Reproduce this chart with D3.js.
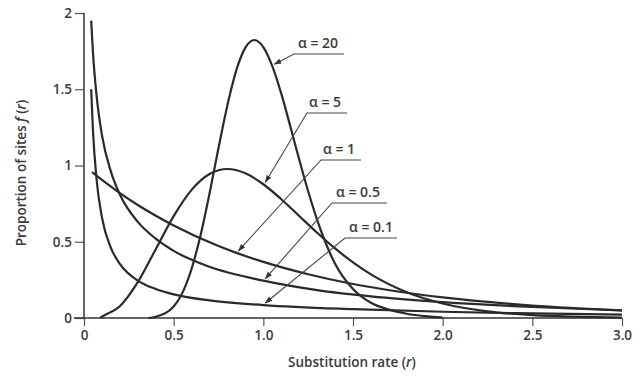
<!DOCTYPE html>
<html>
<head>
<meta charset="utf-8">
<script src="https://d3js.org/d3.v7.min.js"></script>
<style>
  body { margin: 0; background: #fff; }
  text { font-family: "Open Sans", sans-serif; fill: #3a3a3a; font-weight: 600; }
</style>
</head>
<body>
<script>
// values: [rate r, proportion f(r)]
const xTicks = [0, 0.5, 1.0, 1.5, 2.0, 2.5, 3.0];
const xTickLabels = ["0", "0.5", "1.0", "1.5", "2.0", "2.5", "3.0"];
const yTicks = [0, 0.5, 1, 1.5, 2];
const yTickLabels = ["0", "0.5", "1", "1.5", "2"];

const alpha01 = [[0.04, 1.50], [0.05, 1.23], [0.07, 0.91], [0.1, 0.66], [0.15, 0.46], [0.2, 0.355],
  [0.3, 0.245], [0.4, 0.19], [0.5, 0.155], [0.7, 0.115], [1.0, 0.085], [1.5, 0.058],
  [2.0, 0.041], [2.5, 0.03], [3.0, 0.022]];
const alpha05 = [[0.04, 1.95], [0.05, 1.74], [0.07, 1.46], [0.1, 1.20], [0.15, 0.96], [0.2, 0.81],
  [0.3, 0.63], [0.4, 0.52], [0.5, 0.44], [0.7, 0.336], [1.0, 0.245], [1.3, 0.183],
  [1.6, 0.142], [2.0, 0.104], [2.5, 0.072], [3.0, 0.05]];
const alpha1 = [[0.045, 0.956], [0.1, 0.905], [0.2, 0.819], [0.3, 0.741], [0.5, 0.607], [0.75, 0.472],
  [0.85, 0.427], [1.0, 0.368], [1.25, 0.287], [1.5, 0.223], [1.75, 0.174], [2.0, 0.135],
  [2.5, 0.082], [3.0, 0.05]];
const alpha5 = [[0.09, 0.0], [0.1, 0.008], [0.2, 0.077], [0.3, 0.235], [0.4, 0.451], [0.5, 0.668],
  [0.6, 0.84], [0.7, 0.944], [0.8, 0.977], [0.9, 0.949], [1.0, 0.877], [1.1, 0.779],
  [1.2, 0.669], [1.3, 0.559], [1.4, 0.456], [1.5, 0.365], [1.6, 0.286], [1.8, 0.169],
  [2.0, 0.095], [2.25, 0.043], [2.5, 0.019], [3.0, 0.003]];
const alpha20 = [[0.36, 0.0], [0.4, 0.008], [0.5, 0.075], [0.55, 0.168], [0.6, 0.323], [0.65, 0.543],
  [0.7, 0.817], [0.75, 1.115], [0.8, 1.397], [0.85, 1.627], [0.9, 1.773], [0.95, 1.823],
  [1.0, 1.776], [1.05, 1.651], [1.1, 1.471], [1.15, 1.259], [1.2, 1.039], [1.25, 0.831],
  [1.3, 0.644], [1.35, 0.485], [1.4, 0.356], [1.5, 0.19], [1.6, 0.10], [1.7, 0.055],
  [1.8, 0.028], [1.9, 0.012], [2.0, 0.003]];

const seriesNames = ["α = 20", "α = 5", "α = 1", "α = 0.5", "α = 0.1"];
const seriesData = [alpha20, alpha5, alpha1, alpha05, alpha01];
// r at which each label's pointer meets its curve
const pointerR = [1.05, 1.0, 0.85, 1.0, 1.0];

const width = 643, height = 376;
const svg = d3.select("body").append("svg")
    .attr("width", width)
    .attr("height", height);

const x = d3.scaleLinear().domain([0, 3]).range([84, 622]);
const y = d3.scaleLinear().domain([0, 2]).range([318, 13]);

// axes
const xAxis = svg.append("g")
    .attr("transform", `translate(0,${y(0)})`)
    .call(d3.axisBottom(x).tickValues(xTicks)
        .tickFormat((d, i) => xTickLabels[i])
        .tickSize(8).tickPadding(4));
const yAxis = svg.append("g")
    .attr("transform", `translate(${x(0)},0)`)
    .call(d3.axisLeft(y).tickValues(yTicks)
        .tickFormat((d, i) => yTickLabels[i])
        .tickSize(9).tickPadding(3));
[xAxis, yAxis].forEach(g => {
  g.select(".domain").remove();
  g.selectAll(".tick line").attr("stroke", "#555").attr("stroke-width", 1.2);
  g.selectAll(".tick text").style("font-size", "13.5px").attr("fill", "#3a3a3a");
});
svg.append("line")
    .attr("x1", x(0) - 10).attr("x2", x(3))
    .attr("y1", y(0)).attr("y2", y(0))
    .attr("stroke", "#333").attr("stroke-width", 1.5);
svg.append("line")
    .attr("x1", x(0)).attr("x2", x(0))
    .attr("y1", y(2)).attr("y2", y(0))
    .attr("stroke", "#333").attr("stroke-width", 1.5);

// axis titles
const xt = svg.append("text")
    .attr("x", 352).attr("y", 367)
    .attr("text-anchor", "middle")
    .style("font-size", "13.5px");
xt.append("tspan").text("Substitution rate (");
xt.append("tspan").style("font-style", "italic").text("r");
xt.append("tspan").text(")");

const yt = svg.append("text")
    .attr("transform", "translate(26,173) rotate(-90)")
    .attr("text-anchor", "middle")
    .style("font-size", "13.5px");
yt.append("tspan").text("Proportion of sites ");
yt.append("tspan").style("font-style", "italic").text("f");
yt.append("tspan").text(" (");
yt.append("tspan").style("font-style", "italic").text("r");
yt.append("tspan").text(")");

// curves
const line = d3.line()
    .x(d => x(d[0]))
    .y(d => y(d[1]))
    .curve(d3.curveMonotoneX);

svg.append("g")
  .selectAll("path")
  .data(seriesData)
  .join("path")
    .attr("d", line)
    .attr("fill", "none")
    .attr("stroke", "#2a2a2a")
    .attr("stroke-width", 2.2);

// labels with underline and pointer
svg.append("defs").append("marker")
    .attr("id", "arr")
    .attr("viewBox", "0 0 10 10")
    .attr("refX", 9).attr("refY", 5)
    .attr("markerWidth", 7).attr("markerHeight", 7)
    .attr("orient", "auto")
  .append("path")
    .attr("d", "M0,1.5L10,5L0,8.5z")
    .attr("fill", "#333");

const labelPos = [
  {tx: 298, ty: 48, u1: 294, u2: 344, uy: 54},
  {tx: 309, ty: 107, u1: 307, u2: 347, uy: 113},
  {tx: 323, ty: 154, u1: 321, u2: 361, uy: 160},
  {tx: 336, ty: 197, u1: 332, u2: 387, uy: 203},
  {tx: 349, ty: 232, u1: 345, u2: 397, uy: 238}
];

seriesNames.forEach((name, i) => {
  const p = labelPos[i];
  const pt = seriesData[i].find(d => d[0] === pointerR[i]);
  const g = svg.append("g");
  g.append("text")
      .attr("x", p.tx).attr("y", p.ty)
      .style("font-size", "14px")
      .text(name);
  g.append("path")
      .attr("d", `M${p.u2},${p.uy}H${p.u1}L${x(pt[0]) + 2},${y(pt[1]) - 2}`)
      .attr("fill", "none")
      .attr("stroke", "#444")
      .attr("stroke-width", 1.1)
      .attr("marker-end", "url(#arr)");
});
</script>
</body>
</html>
